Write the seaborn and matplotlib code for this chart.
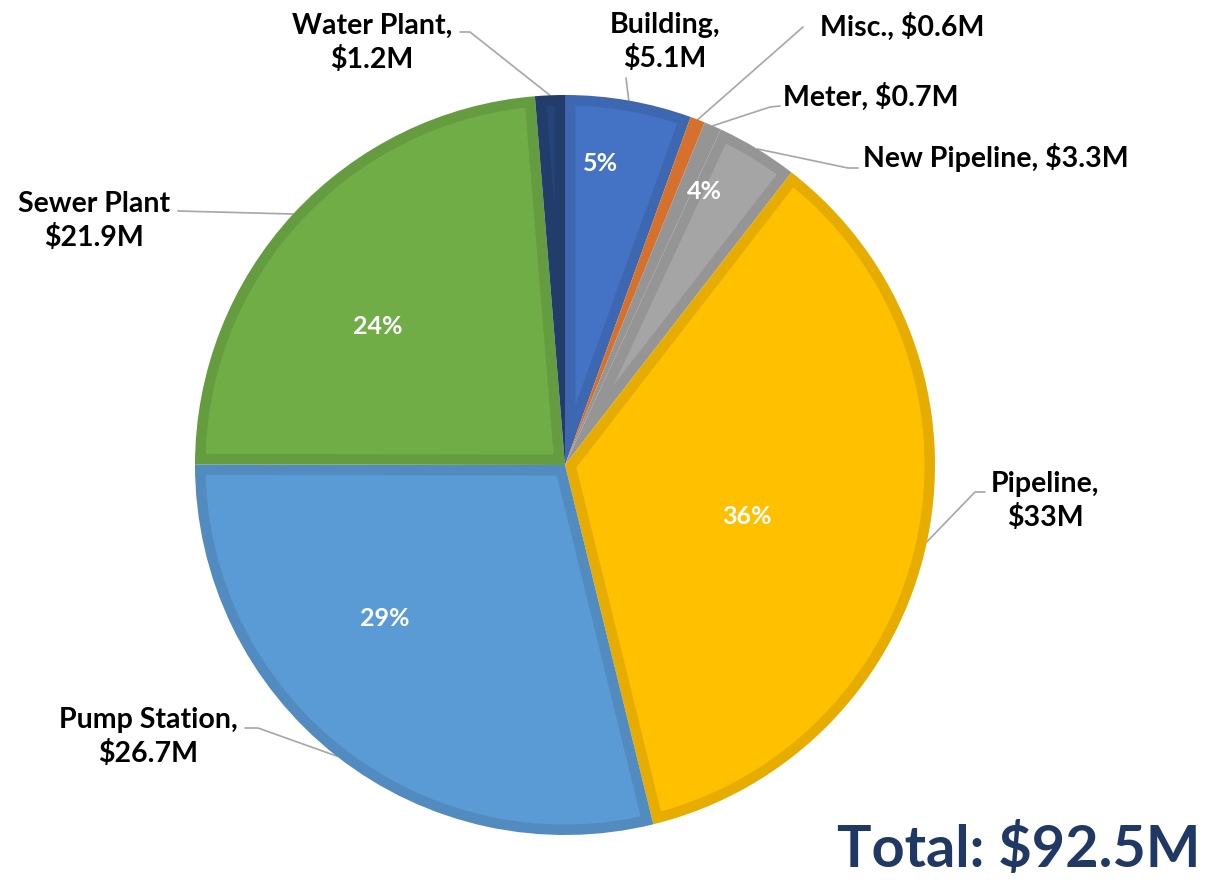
"""Pie chart of capital costs by category (Excel style with leader lines)"""

import matplotlib.pyplot as plt
import numpy as np
import seaborn as sns
from matplotlib.colors import to_rgb
from matplotlib.patches import Polygon

sns.set_theme(style="white")
plt.rcParams['font.family'] = ['Lato', 'DejaVu Sans']

# data
categories = ["Building", "Misc.", "Meter", "New Pipeline", "Pipeline",
              "Pump Station", "Sewer Plant", "Water Plant"]
values = [5.1, 0.6, 0.7, 3.3, 33.0, 26.7, 21.9, 1.2]
value_labels = ["$5.1M", "$0.6M", "$0.7M", "$3.3M", "$33M",
                "$26.7M", "$21.9M", "$1.2M"]
pct_labels = ["5%", "", "", "4%", "36%", "29%", "24%", ""]
total_label = "Total: $92.5M"

colors = ["#4472C4", "#ED7D31", "#A5A5A5", "#A5A5A5", "#FFC000",
          "#5B9BD5", "#70AD47", "#264478"]

W, H = 1207, 881
CX, CY, R = 565, 465, 370
BORDER = 10.5  # px width of the darker slice border


def P(px, py):
    """pixel position (origin top-left) -> axes data coords"""
    return px, H - py


def darker(c, f=0.9):
    return tuple(v * f for v in to_rgb(c))


fig = plt.figure(figsize=(W / 100, H / 100), dpi=100)
ax = fig.add_axes([0, 0, 1, 1])

# full slices in the darker border colour
wedges, _ = ax.pie(values, colors=[darker(c) for c in colors],
                   startangle=90, counterclock=False,
                   radius=R, center=P(CX, CY), frame=True,
                   wedgeprops=dict(linewidth=0))
ax.set_xlim(0, W)
ax.set_ylim(0, H)
ax.axis('off')

cx, cy = P(CX, CY)

# lighter inner part of every slice, inset by the border width
for w, c in zip(wedges, colors):
    t1, t2 = np.radians(w.theta1), np.radians(w.theta2)
    half = (t2 - t1) / 2
    apex_r = BORDER / np.sin(half)
    if apex_r >= R - BORDER - 2:
        continue
    tt = np.sqrt((R - BORDER) ** 2 - BORDER ** 2)
    phi = np.arctan(BORDER / tt)
    arc = np.linspace(t1 + phi, t2 - phi, 200)
    mid = t1 + half
    pts = [(cx + apex_r * np.cos(mid), cy + apex_r * np.sin(mid))]
    pts += [(cx + (R - BORDER) * np.cos(a), cy + (R - BORDER) * np.sin(a))
            for a in arc]
    ax.add_patch(Polygon(pts, closed=True, facecolor=c, edgecolor='none',
                         zorder=w.get_zorder() + 0.1))

# percent labels: radius (fraction of R) and angle shift (deg)
pct_radius = [0.82, 0, 0, 0.83, 0.51, 0.64, 0.63, 0]
pct_shift = [-3.3, 0, 0, -4.4, 4, 11.6, -6.3, 0]


def mid_angle(w):
    """mid angle of wedge in degrees, math convention"""
    return (w.theta1 + w.theta2) / 2


for w, lab, r, s in zip(wedges, pct_labels, pct_radius, pct_shift):
    if not lab:
        continue
    a = np.radians(mid_angle(w) - s)
    ax.text(cx + r * R * np.cos(a), cy + r * R * np.sin(a), lab,
            ha='center', va='center', color='white', fontsize=18,
            fontweight='bold', zorder=5)

# outer labels: text centre, alignment, leader start and elbow (pixels)
label_text = [f"{categories[0]},\n{value_labels[0]}",
              f"{categories[1]}, {value_labels[1]}",
              f"{categories[2]}, {value_labels[2]}",
              f"{categories[3]}, {value_labels[3]}",
              f"{categories[4]},\n{value_labels[4]}",
              f"{categories[5]},\n{value_labels[5]}",
              f"{categories[6]}\n{value_labels[6]}",
              f"{categories[7]},\n{value_labels[7]}"]
label_pos = [(665, 42), (820, 27), (783, 97), (863, 158),
             (1045, 501), (148, 737), (94, 221), (372, 43)]
label_ha = ["center", "left", "left", "left",
            "center", "center", "center", "center"]
leader_start = [(626, 78), (803, 27), (780, 106), (858, 168),
                (985, 492), (245, 728), (178, 211), (460, 32)]
leader_elbow = [None, None, (770, 107), (848, 168),
                (975, 492), (258, 728), None, (470, 32)]

for w, txt, pos, ha, st, el in zip(wedges, label_text, label_pos, label_ha,
                                   leader_start, leader_elbow):
    ax.text(*P(*pos), txt, ha=ha, va='center', fontsize=20.5,
            fontweight='bold', color='black', linespacing=1.35,
            multialignment='center')
    a = np.radians(mid_angle(w))
    hit = (cx + R * np.cos(a), cy + R * np.sin(a))
    pts = [P(*st)] + ([P(*el)] if el else []) + [hit]
    xs, ys = zip(*pts)
    ax.plot(xs, ys, color='#A6A6A6', lw=1.2, zorder=0.5)

ax.text(*P(1200, 850), total_label, ha='right', va='center', fontsize=41.5,
        fontweight='bold', color='#203864')

fig.savefig("out.png", dpi=100)
plt.close(fig)
